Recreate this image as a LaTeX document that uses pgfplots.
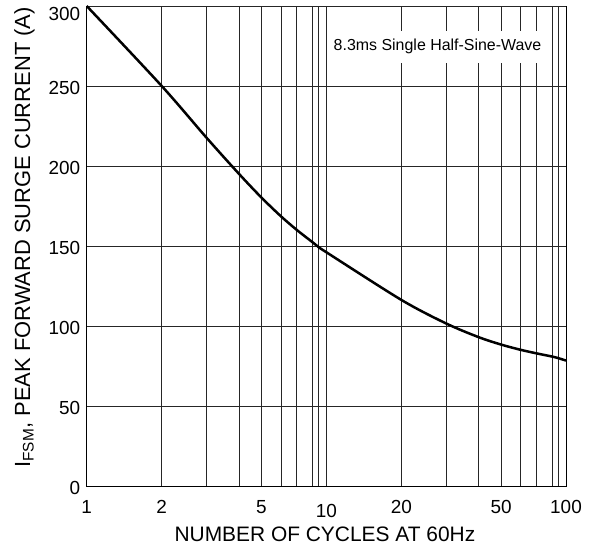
\documentclass[border=0pt]{standalone}
\usepackage{pgfplots}
\pgfplotsset{compat=1.18}
\usepackage{fontspec}
\setmainfont{Liberation Sans}
\begin{document}
\begin{tikzpicture}
\begin{axis}[
  scale only axis,
  width=479.3bp, height=480bp,
  xmin=1, xmax=100, ymin=0, ymax=300,
  x coord trafo/.code={%
    \pgfmathparse{floor(log10(#1)+0.001)}\let\cycd\pgfmathresult
    \pgfmathparse{#1/(10^\cycd)}\let\cycm\pgfmathresult
    \pgfmathparse{\cycd+(\cycm<2 ? 0.313*(\cycm-1) : (\cycm<3 ? 0.313+0.188*(\cycm-2) : (\cycm<4 ? 0.501+0.135*(\cycm-3) : (\cycm<5 ? 0.636+0.093*(\cycm-4) : (\cycm<6 ? 0.729+0.082*(\cycm-5) : (\cycm<7 ? 0.811+0.066*(\cycm-6) : (\cycm<8 ? 0.877+0.065*(\cycm-7) : (\cycm<9 ? 0.942+0.026*(\cycm-8) : 0.968+0.032*(\cycm-9)))))))))}%
  },
  xtick={1,2,5,20,50,100},
  xticklabels={1,2,5,20,50,100},
  extra x ticks={10},
  extra x tick labels={10},
  extra x tick style={xticklabel style={yshift=-4bp}},
  minor xtick={3,4,6,7,8,9,30,40,60,70,80,90},
  ytick={0,50,100,150,200,250},
  extra y ticks={300},
  extra y tick style={yticklabel style={yshift=-6bp}},
  grid=both,
  major grid style={black!85, line width=0.8bp},
  minor grid style={black!85, line width=0.8bp},
  major tick length=0pt, minor tick length=0pt,
  axis line style={black, line width=0.9bp},
  tick label style={font=\fontsize{19}{22}\selectfont},
  /pgf/number format/assume math mode=true,
  xticklabel style={anchor=base, yshift=-27.3bp},
  yticklabel style={xshift=-3bp, yshift=-2bp},
  xlabel={NUMBER OF CYCLES AT 60Hz},
  ylabel={I\textsubscript{FSM}, PEAK FORWARD SURGE CURRENT (A)},
  xlabel style={font=\fontsize{21}{24}\selectfont, at={(axis description cs:0.497,-0.1146)}, anchor=base},
  ylabel style={font=\fontsize{22}{25}\selectfont, at={(axis description cs:-0.118,0.518)}, anchor=base},
]
\addplot[black, line width=2.5bp, smooth] coordinates {
  (1,300) (2,250) (3,217.5) (4,195.0) (5,180.3) (6,168.5) (7,160) (8,152.4) (9,149.3)
  (10,146.1) (20,116.3) (30,101.5) (40,93) (50,88.4) (60,85.1) (70,82.9) (80,80.9) (90,79.9) (100,78.4)
};
\node[fill=white, inner sep=0pt, minimum width=218bp, minimum height=32bp,
      font=\fontsize{16}{19}\selectfont] at (rel axis cs:0.732,0.915) {8.3ms Single Half-Sine-Wave};
\coordinate (sw) at (rel axis cs:0,0);
\coordinate (ne) at (rel axis cs:1,1);
\end{axis}
\pgfresetboundingbox
\path[use as bounding box] ([xshift=-86.7bp,yshift=-58bp]sw) rectangle ([xshift=27bp,yshift=6bp]ne);
\end{tikzpicture}
\end{document}
